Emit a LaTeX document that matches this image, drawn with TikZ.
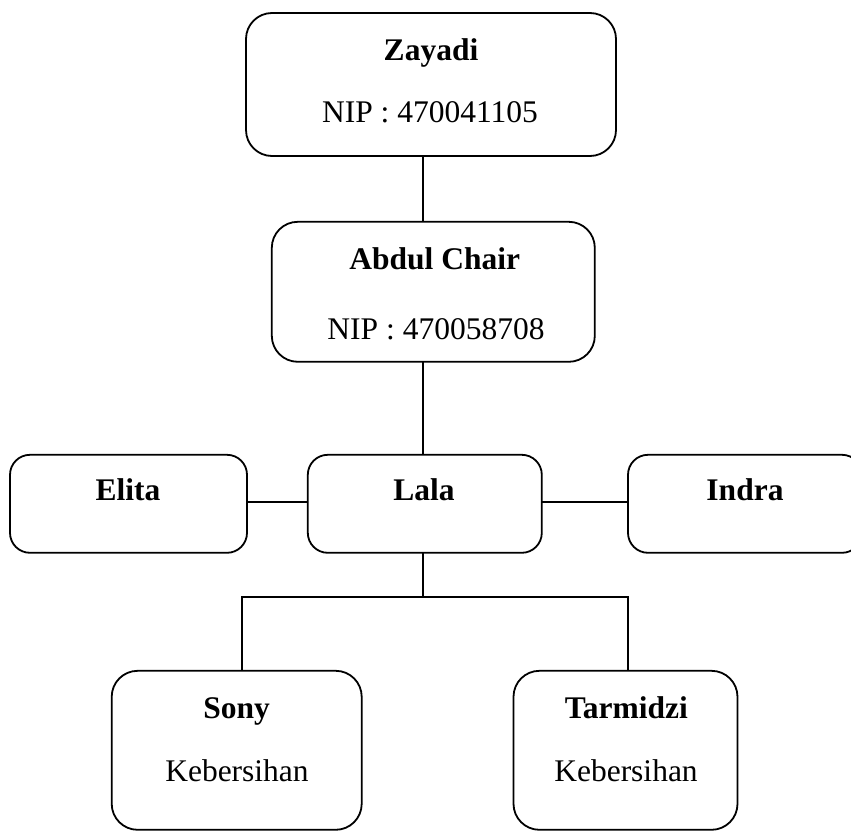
\documentclass[tikz,border=0pt]{standalone}
\usepackage{fontspec}
\setmainfont{Liberation Serif}
\begin{document}
\begin{tikzpicture}[x=1pt,y=-1pt,
  box/.style={draw,line width=1.8pt,rectangle,rounded corners=#1,inner sep=0pt,outer sep=0pt},
  box/.default=26pt,
  lbl/.style={anchor=base,inner sep=0pt,font=\fontsize{31.5}{36}\selectfont},
  blbl/.style={lbl,font=\fontsize{31.5}{36}\selectfont\bfseries},
  conn/.style={line width=1.8pt}]
\useasboundingbox (0,0) rectangle (851,832);
\clip (0,0) rectangle (851,832);
% boxes
\node[box,minimum width=370pt,minimum height=143pt] (zay) at (431,84.5) {};
\node[box,minimum width=323pt,minimum height=140pt] (abd) at (433.3,291.8) {};
\node[box=20pt,minimum width=237pt,minimum height=98pt] (eli) at (128.5,503.8) {};
\node[box=20pt,minimum width=234pt,minimum height=98pt] (lala) at (424.8,503.8) {};
\node[box=20pt,minimum width=234pt,minimum height=98pt] (ind) at (745,503.8) {};
\node[box,minimum width=250pt,minimum height=159pt] (sony) at (236.7,750.3) {};
\node[box,minimum width=224pt,minimum height=159pt] (tar) at (625.5,750.3) {};
% texts
\node[blbl] (tzay) at (431,61) {Zayadi};
\node[lbl] (nzay) at (430,122.7) {NIP : 470041105};
\node[blbl] (tabd) at (434.7,269.3) {Abdul Chair};
\node[lbl] (nabd) at (436,339.3) {NIP : 470058708};
\node[blbl] (teli) at (128,500) {Elita};
\node[blbl] (tlala) at (424,500) {Lala};
\node[blbl] (tind) at (745,500) {Indra};
\node[blbl] (tsony) at (236.7,718) {Sony};
\node[lbl] (ksony) at (237,781.7) {Kebersihan};
\node[blbl] (ttar) at (626.3,718) {Tarmidzi};
\node[lbl] (ktar) at (626,781.7) {Kebersihan};
% connector helpers
\coordinate (sp) at (423,0);
\coordinate (hy) at (0,502);
\coordinate (bl) at (242,597);
\coordinate (br) at (628.3,597);
% connectors
\draw[conn] (zay.south -| sp) -- (abd.north -| sp);
\draw[conn] (abd.south -| sp) -- (lala.north -| sp);
\draw[conn] (eli.east |- hy) -- (lala.west |- hy);
\draw[conn] (lala.east |- hy) -- (ind.west |- hy);
\draw[conn] (lala.south -| sp) -- (sp |- bl);
\draw[conn] (bl |- sony.north) -- (bl) -- (br) -- (br |- tar.north);
\end{tikzpicture}
\end{document}
